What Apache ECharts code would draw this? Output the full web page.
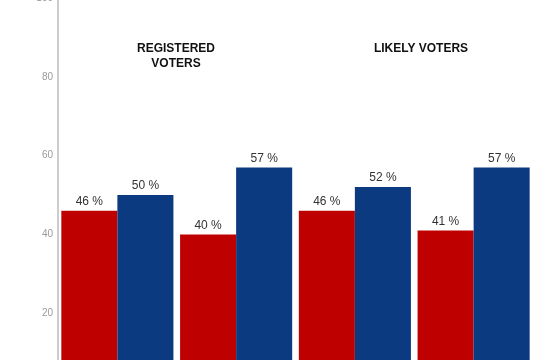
<!DOCTYPE html>
<html>
<head>
<meta charset="utf-8">
<script src="https://cdn.jsdelivr.net/npm/echarts@6/dist/echarts.min.js"></script>
<style>html,body{margin:0;padding:0;background:#fff;overflow:hidden;width:550px;height:360px;position:relative;}
#c{width:550px;height:460px;position:absolute;left:0;top:-40px;}</style>
</head>
<body>
<div id="c"></div>
<script>
var categories = ['RV-A', 'RV-B', 'LV-A', 'LV-B'];
var redValues = [46, 40, 46, 41];
var blueValues = [50, 57, 52, 57];
var yTicks = [0, 20, 40, 60, 80, 100];
var groupTitles = ['REGISTERED\nVOTERS', 'LIKELY VOTERS'];

var chart = echarts.init(document.getElementById('c'));
var labelCfg = {
  show: true, position: 'top', distance: 3,
  formatter: '{c} %', color: '#333', fontSize: 12,
  fontFamily: 'Liberation Sans, Arial, sans-serif'
};
chart.setOption({
  animation: false,
  grid: { left: 58, right: 17, top: 38, bottom: 28, containLabel: false },
  xAxis: {
    type: 'category', data: categories,
    axisLine: { show: false }, axisTick: { show: false }, axisLabel: { show: false }
  },
  yAxis: {
    type: 'value', min: yTicks[0], max: yTicks[yTicks.length - 1], interval: 20,
    axisLine: { show: true, lineStyle: { color: '#bbbbbb', width: 1.5 } },
    axisTick: { show: false },
    splitLine: { show: false },
    axisLabel: { color: '#9a9a9a', fontSize: 10, margin: 5,
      fontFamily: 'Liberation Sans, Arial, sans-serif' }
  },
  series: [
    { type: 'bar', data: redValues, barGap: '0%', barCategoryGap: '5.6%',
      itemStyle: { color: '#bf0000' }, label: labelCfg },
    { type: 'bar', data: blueValues, barGap: '0%', barCategoryGap: '5.6%',
      itemStyle: { color: '#0c3a80' }, label: labelCfg }
  ],
  graphic: [
    { type: 'text', x: 176, y: 81, style: { text: groupTitles[0], textAlign: 'center',
      font: 'bold 12px Liberation Sans, Arial, sans-serif', fill: '#111', lineHeight: 15 } },
    { type: 'text', x: 421, y: 81, style: { text: groupTitles[1], textAlign: 'center',
      font: 'bold 12px Liberation Sans, Arial, sans-serif', fill: '#111', lineHeight: 15 } }
  ]
});
</script>
</body>
</html>
